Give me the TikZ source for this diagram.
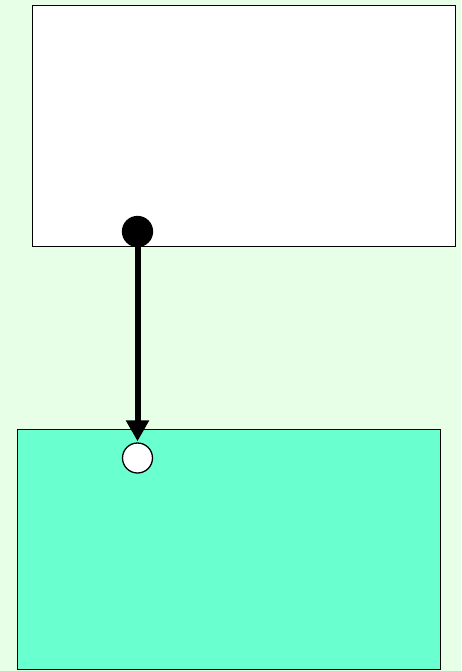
\documentclass[tikz,border=0pt]{standalone}
\usetikzlibrary{arrows.meta}
\definecolor{bggreen}{RGB}{230,255,230}
\definecolor{aqua}{RGB}{106,255,206}
\begin{document}
\begin{tikzpicture}[x=1pt,y=-1pt,
  boxstyle/.style={draw=black,line width=1.3pt,inner sep=0pt,anchor=north west},
  portdot/.style={circle,draw=black,line width=1.3pt,minimum size=30pt,inner sep=0pt}]
\fill[bggreen] (0,0) rectangle (461,671);
\useasboundingbox (0,0) rectangle (461,671);
\node[boxstyle,fill=white,minimum width=423pt,minimum height=241pt] (top) at (32,5) {};
\node[boxstyle,fill=aqua,minimum width=423pt,minimum height=240pt] (bot) at (17,429) {};
\node[portdot,fill=black] (src) at (137.5,231.5) {};
\node[portdot,fill=white] (dst) at (137.5,458) {};
\draw[line width=6pt,-{Triangle[length=21pt,width=22pt]},shorten >=1pt] (src.center) -- (dst.north);
\end{tikzpicture}
\end{document}
